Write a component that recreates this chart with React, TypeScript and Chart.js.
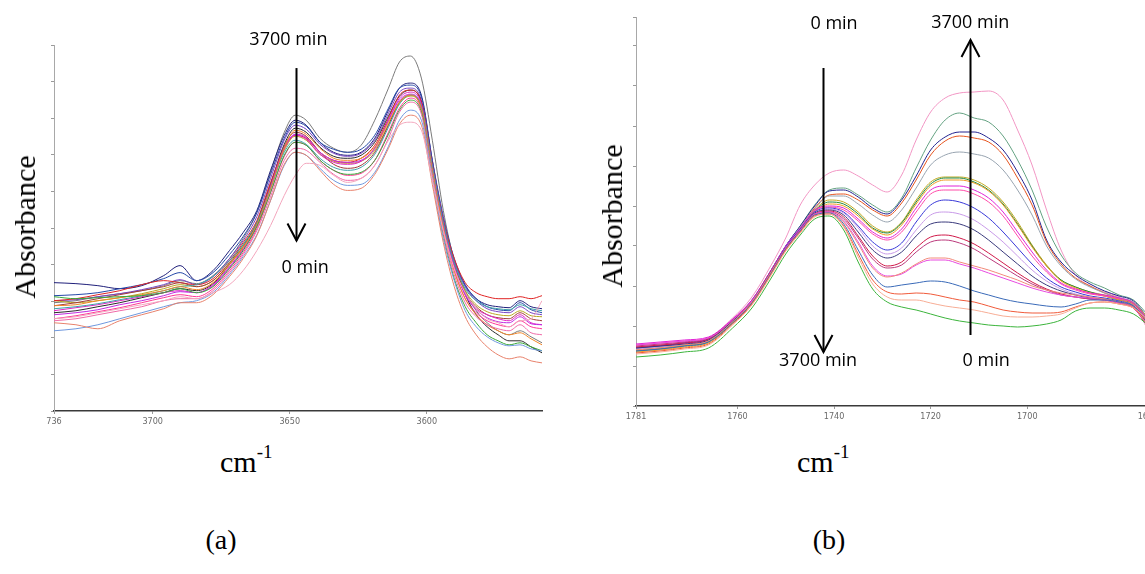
import React, { useEffect, useRef } from "react";
import { Chart, registerables } from "chart.js";

Chart.register(...registerables);

// ---------------- Panel (a) data ----------------
const A_WAVENUMBERS = [3736, 3728, 3720, 3712, 3704, 3696, 3690, 3684, 3678, 3672, 3667, 3662, 3657, 3652, 3648, 3644, 3639, 3634, 3629, 3624, 3619, 3614, 3610, 3606, 3602, 3598, 3594, 3590, 3586, 3582, 3578, 3574, 3570, 3566, 3562, 3558];
const A_TICKS = [3736, 3700, 3650, 3600];
const A_TICK_LABELS = ["736", "3700", "3650", "3600"];

const A_GRAY = [108, 110, 114, 117, 120, 125, 130, 127, 135, 152, 172, 198, 238, 278, 295, 290, 272, 262, 258, 265, 290, 322, 348, 354, 332, 270, 200, 150, 120, 100, 88, 80, 76, 80, 74, 68];
const A_NAVY = [128, 127, 125, 122, 125, 135, 145, 130, 140, 160, 178, 200, 240, 275, 290, 285, 268, 258, 255, 258, 272, 300, 322, 327, 315, 250, 190, 150, 125, 112, 106, 104, 103, 110, 104, 102];
const A_RED = [110, 112, 116, 120, 126, 130, 128, 126, 132, 150, 168, 190, 228, 262, 275, 272, 258, 250, 248, 252, 265, 292, 315, 320, 308, 245, 190, 152, 128, 118, 114, 112, 112, 114, 112, 115];
const A_ORANGE = [105, 106, 110, 113, 116, 120, 124, 121, 128, 146, 163, 186, 222, 262, 280, 276, 262, 252, 250, 252, 263, 288, 308, 315, 302, 240, 182, 140, 112, 96, 86, 80, 76, 78, 72, 66];
const A_GREEN = [114, 112, 113, 114, 115, 118, 122, 118, 124, 142, 160, 184, 218, 255, 268, 265, 250, 240, 236, 238, 250, 276, 300, 310, 298, 236, 176, 132, 104, 88, 76, 70, 66, 68, 64, 60];
const A_MAGENTA = [100, 103, 106, 110, 114, 118, 120, 118, 126, 144, 162, 185, 222, 262, 275, 271, 256, 248, 246, 249, 262, 290, 312, 318, 306, 244, 186, 144, 116, 102, 96, 92, 90, 96, 88, 86];
const A_PINK = [90, 92, 96, 100, 104, 110, 112, 112, 120, 138, 156, 180, 214, 250, 262, 260, 248, 236, 230, 232, 245, 272, 298, 308, 296, 236, 178, 136, 108, 94, 86, 82, 80, 86, 78, 76];
const A_PURPLE = [110, 111, 114, 117, 121, 126, 131, 126, 134, 152, 170, 194, 232, 270, 285, 281, 266, 257, 254, 257, 270, 297, 318, 322, 310, 248, 192, 150, 124, 110, 102, 99, 98, 104, 98, 96];
const A_TEAL = [102, 104, 107, 111, 115, 120, 124, 126, 134, 150, 166, 188, 222, 258, 270, 266, 252, 243, 240, 243, 256, 283, 306, 315, 304, 244, 188, 148, 122, 110, 104, 102, 101, 106, 102, 100];
const A_LIGHTBLUE = [80, 82, 86, 92, 98, 104, 108, 110, 118, 136, 154, 176, 210, 245, 258, 255, 242, 230, 225, 226, 238, 264, 290, 300, 290, 230, 172, 130, 100, 84, 74, 68, 65, 66, 62, 60];
const A_LIGHTPINK = [92, 94, 98, 102, 106, 110, 114, 112, 118, 126, 140, 160, 185, 215, 235, 247, 245, 235, 228, 232, 245, 270, 285, 288, 280, 230, 180, 142, 118, 102, 92, 88, 84, 90, 92, 110];
const A_SALMON = [88, 86, 82, 90, 96, 102, 108, 108, 116, 134, 152, 175, 210, 246, 258, 255, 240, 226, 220, 222, 236, 262, 286, 295, 285, 226, 168, 124, 94, 76, 64, 56, 52, 54, 50, 48];
const A_DARKBLUE = [115, 116, 118, 122, 126, 132, 138, 130, 138, 156, 174, 198, 236, 272, 288, 284, 268, 261, 258, 261, 275, 302, 322, 325, 313, 250, 194, 152, 126, 112, 104, 101, 100, 108, 101, 98];
const A_BROWN = [105, 108, 112, 116, 120, 124, 128, 124, 130, 148, 166, 188, 226, 264, 278, 274, 258, 246, 242, 245, 258, 285, 308, 315, 303, 242, 186, 146, 118, 104, 96, 93, 92, 98, 92, 90];
const A_BLACK = [98, 100, 104, 108, 113, 118, 122, 120, 127, 146, 164, 188, 226, 266, 282, 278, 263, 254, 252, 255, 268, 294, 314, 320, 308, 246, 188, 146, 116, 96, 84, 76, 70, 70, 64, 58];
const A_HOTPINK = [92, 95, 99, 103, 108, 113, 116, 114, 122, 140, 158, 182, 218, 254, 268, 265, 250, 240, 235, 237, 250, 278, 302, 312, 300, 240, 182, 140, 112, 98, 90, 86, 84, 90, 84, 82];
const A_VIOLET = [96, 98, 101, 106, 110, 115, 119, 118, 125, 143, 161, 185, 224, 262, 276, 273, 258, 250, 248, 250, 262, 290, 310, 316, 304, 242, 186, 144, 116, 101, 93, 89, 88, 94, 87, 86];
const A_OLIVE = [110, 108, 110, 113, 117, 122, 126, 124, 130, 147, 164, 186, 223, 260, 274, 270, 256, 249, 247, 249, 260, 286, 307, 314, 302, 240, 184, 146, 120, 106, 99, 96, 95, 100, 95, 94];

const A_SERIES = [A_LIGHTPINK, A_SALMON, A_LIGHTBLUE, A_PINK, A_GREEN, A_ORANGE, A_TEAL, A_HOTPINK, A_VIOLET, A_MAGENTA, A_BROWN, A_RED, A_OLIVE, A_BLACK, A_PURPLE, A_DARKBLUE, A_NAVY, A_GRAY];
const A_COLORS = ["#f3a6bd", "#e8826c", "#6f98de", "#f06aa8", "#3aa83a", "#f0862a", "#3fa3a8", "#ff3796", "#c02ae0", "#e024c4", "#a33a3a", "#e02424", "#b8a822", "#2a2a2a", "#7a44c4", "#2548a8", "#1f1f7a", "#7a7a7a"];

// ---------------- Panel (b) data ----------------
const B_WAVENUMBERS = [1781, 1776, 1771, 1766, 1761, 1757, 1753, 1750, 1747, 1744, 1741, 1738, 1735, 1732, 1729, 1726, 1723, 1720, 1717, 1714, 1711, 1708, 1705, 1702, 1699, 1696, 1693, 1690, 1687, 1684, 1681, 1678, 1675];
const B_TICKS = [1781, 1760, 1740, 1720, 1700, 1675];
const B_TICK_LABELS = ["1781", "1760", "1740", "1720", "1700", "1675"];

const B_PINK = [59, 61, 64, 68, 88, 109, 141, 168, 201, 221, 233, 236, 230, 221, 214, 231, 266, 294, 308, 313, 314, 315, 306, 276, 241, 196, 156, 131, 120, 114, 109, 101, 76];
const B_GREENGRAY = [57, 59, 62, 66, 85, 105, 136, 160, 180, 201, 216, 218, 211, 201, 194, 208, 238, 266, 286, 293, 288, 284, 270, 246, 216, 179, 151, 133, 124, 118, 111, 106, 91];
const B_NAVY = [58, 60, 63, 67, 86, 106, 136, 160, 180, 200, 215, 216, 209, 198, 192, 206, 230, 256, 269, 274, 274, 268, 256, 234, 206, 166, 144, 131, 122, 115, 110, 105, 88];
const B_ORANGERED = [56, 58, 61, 65, 84, 104, 134, 158, 178, 198, 211, 212, 206, 196, 190, 203, 226, 251, 265, 270, 268, 264, 251, 228, 201, 164, 142, 128, 120, 113, 108, 103, 86];
const B_GRAY = [57, 59, 62, 66, 85, 105, 135, 159, 179, 197, 210, 210, 202, 191, 184, 196, 218, 241, 251, 254, 252, 248, 236, 216, 191, 160, 140, 127, 119, 113, 108, 104, 88];
const B_OLIVE = [56, 58, 61, 65, 84, 104, 134, 158, 177, 196, 206, 204, 194, 180, 174, 184, 206, 224, 229, 229, 226, 218, 204, 184, 161, 141, 126, 119, 114, 111, 107, 103, 88];
const B_DARKGREEN = [55, 57, 60, 64, 83, 103, 133, 157, 176, 195, 204, 202, 192, 178, 173, 183, 204, 222, 228, 228, 224, 216, 202, 182, 160, 140, 126, 119, 114, 110, 106, 102, 86];
const B_ORANGE = [54, 56, 59, 63, 83, 103, 133, 157, 176, 194, 202, 200, 190, 177, 171, 181, 202, 220, 226, 226, 223, 215, 201, 181, 159, 140, 125, 118, 113, 110, 106, 101, 84];
const B_MAGENTA = [62, 64, 66, 69, 87, 106, 136, 160, 178, 196, 200, 198, 187, 174, 168, 177, 198, 216, 220, 220, 216, 208, 194, 174, 154, 136, 123, 117, 113, 111, 108, 103, 86];
const B_HOTPINK = [61, 63, 65, 68, 86, 105, 135, 159, 177, 195, 199, 196, 185, 172, 166, 174, 194, 212, 216, 216, 212, 204, 190, 170, 150, 134, 122, 116, 112, 110, 107, 102, 84];
const B_BLUE = [58, 60, 63, 67, 86, 105, 135, 159, 177, 194, 198, 194, 180, 164, 156, 163, 184, 201, 206, 204, 198, 188, 174, 158, 142, 128, 119, 114, 110, 108, 105, 100, 81];
const B_LILAC = [57, 59, 62, 66, 85, 104, 134, 158, 176, 193, 197, 193, 178, 160, 152, 158, 176, 191, 194, 192, 186, 176, 164, 150, 136, 125, 117, 112, 109, 107, 104, 99, 80];
const B_DARKNAVY = [58, 60, 62, 66, 85, 104, 134, 158, 176, 193, 196, 191, 174, 156, 148, 154, 170, 182, 184, 182, 176, 166, 154, 142, 130, 121, 115, 111, 108, 107, 104, 99, 82];
const B_CRIMSON = [59, 61, 63, 67, 86, 105, 135, 158, 176, 192, 195, 189, 170, 150, 140, 144, 158, 169, 171, 168, 162, 153, 143, 133, 124, 117, 112, 109, 107, 106, 103, 98, 80];
const B_CRIMSON2 = [60, 62, 64, 68, 86, 105, 135, 158, 176, 192, 194, 187, 168, 147, 138, 141, 154, 164, 166, 163, 157, 148, 139, 130, 122, 116, 111, 109, 107, 106, 103, 98, 79];
const B_MAGENTA2 = [61, 63, 65, 68, 86, 105, 134, 158, 176, 192, 194, 185, 164, 140, 130, 132, 141, 146, 146, 142, 138, 133, 128, 123, 118, 114, 111, 109, 108, 106, 103, 98, 81];
const B_SALMON = [56, 58, 61, 65, 84, 104, 134, 157, 175, 191, 193, 184, 162, 138, 129, 133, 142, 148, 148, 144, 140, 136, 131, 126, 120, 116, 113, 111, 109, 107, 104, 99, 80];
const B_BLUE2 = [55, 57, 60, 64, 83, 103, 133, 157, 175, 191, 193, 182, 156, 131, 119, 121, 123, 125, 124, 120, 115, 111, 107, 104, 102, 100, 99, 102, 106, 106, 104, 100, 84];
const B_REDORANGE = [53, 55, 58, 62, 82, 102, 132, 156, 174, 190, 192, 180, 152, 126, 114, 112, 113, 112, 109, 106, 104, 100, 96, 94, 93, 93, 94, 99, 103, 104, 102, 98, 84];
const B_LIGHTSALMON = [52, 54, 57, 61, 81, 101, 131, 155, 173, 189, 192, 179, 149, 122, 109, 106, 106, 103, 100, 98, 96, 93, 90, 89, 89, 90, 92, 98, 103, 104, 102, 98, 86];
const B_GREEN = [49, 51, 54, 58, 78, 98, 128, 152, 171, 187, 190, 176, 144, 117, 104, 99, 96, 92, 88, 85, 83, 81, 80, 79, 80, 82, 86, 95, 98, 98, 96, 92, 81];

const B_SERIES = [B_GREEN, B_LIGHTSALMON, B_REDORANGE, B_BLUE2, B_SALMON, B_MAGENTA2, B_CRIMSON2, B_CRIMSON, B_DARKNAVY, B_LILAC, B_BLUE, B_HOTPINK, B_MAGENTA, B_ORANGE, B_DARKGREEN, B_OLIVE, B_GRAY, B_ORANGERED, B_NAVY, B_GREENGRAY, B_PINK];
const B_COLORS = ["#3cb43c", "#f7ad95", "#f05a3a", "#3a6ab8", "#f28a7a", "#e84ae0", "#bb3a7c", "#d01a4a", "#3a3a7c", "#c89ae8", "#3838d8", "#ff4aa8", "#e022d8", "#f09c22", "#22893f", "#c2aa22", "#98a4b0", "#e6541f", "#22228f", "#64a282", "#f296c4"];

// ---------------- annotations (data coordinates) ----------------
const A_ARROWS = [{ at: 3647.6, from: 342, to: 170 }];
const A_NOTES = [
  { text: "3700 min", at: 3650.5, y: 370 },
  { text: "0 min", at: 3644.4, y: 143 },
];
const B_ARROWS = [
  { at: 1742.3, from: 338, to: 54 },
  { at: 1711.8, from: 71, to: 366 },
];
const B_NOTES = [
  { text: "0 min", at: 1740.0, y: 382 },
  { text: "3700 min", at: 1743.3, y: 45 },
  { text: "3700 min", at: 1711.8, y: 383 },
  { text: "0 min", at: 1708.5, y: 45 },
];

const arrowPlugin = {
  id: "arrows",
  afterDatasetsDraw(chart: any, _args: any, opts: any) {
    const { ctx } = chart;
    const xs = chart.scales.x;
    const ys = chart.scales.y;
    ctx.save();
    ctx.strokeStyle = "#000";
    ctx.lineWidth = 2;
    ctx.lineCap = "butt";
    for (const a of opts.arrows || []) {
      const px = Math.round(xs.getPixelForValue(a.at)) + 0.5;
      const y1 = ys.getPixelForValue(a.from);
      const y2 = ys.getPixelForValue(a.to);
      const dir = y2 > y1 ? 1 : -1;
      ctx.beginPath();
      ctx.moveTo(px, y1);
      ctx.lineTo(px, y2);
      ctx.stroke();
      ctx.beginPath();
      ctx.moveTo(px - 9, y2 - dir * 17);
      ctx.lineTo(px, y2);
      ctx.lineTo(px + 9, y2 - dir * 17);
      ctx.stroke();
    }
    ctx.fillStyle = "#000";
    ctx.font = '18px "Open Sans", "DejaVu Sans", sans-serif';
    ctx.textAlign = "center";
    ctx.textBaseline = "middle";
    for (const n of opts.notes || []) {
      ctx.fillText(n.text, xs.getPixelForValue(n.at), ys.getPixelForValue(n.y));
    }
    ctx.restore();
  },
};

type PanelProps = {
  left: number;
  width: number;
  height: number;
  padding: { left: number; top: number; right: number };
  axisHeight: number;
  wavenumbers: number[];
  series: number[][];
  colors: string[];
  xMin: number;
  xMax: number;
  ticks: number[];
  tickLabels: string[];
  yMax: number;
  yStep: number;
  arrows: any[];
  notes: any[];
};

function SpectrumPanel(p: PanelProps) {
  const ref = useRef<HTMLCanvasElement | null>(null);
  useEffect(() => {
    if (!ref.current) return;
    const datasets = p.series.map((s, i) => ({
      label: "spectrum " + (i + 1),
      data: p.wavenumbers.map((w, j) => ({ x: w, y: s[j] })),
      borderColor: p.colors[i],
      borderWidth: 1,
      pointRadius: 0,
      fill: false,
      cubicInterpolationMode: "monotone" as const,
    }));
    const chart = new Chart(ref.current, {
      type: "line",
      data: { datasets },
      plugins: [arrowPlugin],
      options: {
        responsive: false,
        animation: false,
        events: [],
        layout: {
          autoPadding: false,
          padding: { left: p.padding.left, top: p.padding.top, right: p.padding.right, bottom: 0 },
        },
        plugins: {
          legend: { display: false },
          tooltip: { enabled: false },
          arrows: { arrows: p.arrows, notes: p.notes },
        } as any,
        scales: {
          x: {
            type: "linear",
            reverse: true,
            min: p.xMin,
            max: p.xMax,
            afterBuildTicks: (s: any) => {
              s.ticks = p.ticks.map((v) => ({ value: v }));
            },
            afterFit: (s: any) => {
              s.height = p.axisHeight;
            },
            ticks: {
              autoSkip: false,
              maxRotation: 0,
              padding: 2,
              color: "#6a6a6a",
              font: { family: '"Liberation Sans Narrow", "DejaVu Sans Condensed", sans-serif', size: 9 },
              callback: (_v: any, i: number) => p.tickLabels[i],
            },
            grid: { drawOnChartArea: false, drawTicks: true, tickLength: 3, color: "#9a9a9a" },
            border: { display: true, color: "#3a3a3a", width: 1.5 },
          },
          y: {
            type: "linear",
            min: 0,
            max: p.yMax,
            afterFit: (s: any) => {
              s.width = 0;
            },
            ticks: { stepSize: p.yStep, callback: () => "", font: { size: 1 } },
            grid: { drawOnChartArea: false, drawTicks: true, tickLength: 3, color: "#9a9a9a" },
            border: { display: true, color: "#a8a8a8", width: 1 },
          },
        },
      },
    });
    return () => chart.destroy();
  }, []);
  return (
    <canvas
      ref={ref}
      width={p.width}
      height={p.height}
      style={{ position: "absolute", left: p.left, top: 0, width: p.width, height: p.height }}
    />
  );
}

const serif = '"Liberation Serif", "Times New Roman", serif';

function Label({ x, y, size, rotate, children }: any) {
  return (
    <div
      style={{
        position: "absolute",
        left: x,
        top: y,
        transform: `translate(-50%, -50%)${rotate ? " rotate(-90deg)" : ""}`,
        fontFamily: serif,
        fontSize: size,
        lineHeight: 1,
        whiteSpace: "nowrap",
        color: "#000",
      }}
    >
      {children}
    </div>
  );
}

function CmLabel({ x, y }: any) {
  return (
    <div
      style={{
        position: "absolute",
        left: x,
        top: y,
        fontFamily: serif,
        fontSize: 30,
        lineHeight: "30px",
        whiteSpace: "nowrap",
        color: "#000",
      }}
    >
      cm<span style={{ fontSize: 19, position: "relative", top: -14 }}>-1</span>
    </div>
  );
}

export default function App() {
  return (
    <div
      style={{
        position: "fixed",
        left: 0,
        top: 0,
        width: 1145,
        height: 574,
        overflow: "hidden",
        background: "#fff",
      }}
    >
      <SpectrumPanel
        left={0}
        width={560}
        height={440}
        padding={{ left: 54, top: 45, right: 18 }}
        axisHeight={29}
        wavenumbers={A_WAVENUMBERS}
        series={A_SERIES}
        colors={A_COLORS}
        xMin={3558}
        xMax={3736}
        ticks={A_TICKS}
        tickLabels={A_TICK_LABELS}
        yMax={365}
        yStep={36.5}
        arrows={A_ARROWS}
        notes={A_NOTES}
      />
      <SpectrumPanel
        left={580}
        width={600}
        height={440}
        padding={{ left: 56, top: 17, right: 32 }}
        axisHeight={34}
        wavenumbers={B_WAVENUMBERS}
        series={B_SERIES}
        colors={B_COLORS}
        xMin={1675}
        xMax={1781}
        ticks={B_TICKS}
        tickLabels={B_TICK_LABELS}
        yMax={389}
        yStep={40}
        arrows={B_ARROWS}
        notes={B_NOTES}
      />
      <Label x={25} y={227} size={30} rotate>
        Absorbance
      </Label>
      <Label x={612} y={216} size={30} rotate>
        Absorbance
      </Label>
      <CmLabel x={220} y={447} />
      <CmLabel x={797} y={447} />
      <Label x={221} y={540} size={28}>
        (a)
      </Label>
      <Label x={829} y={540} size={28}>
        (b)
      </Label>
    </div>
  );
}
